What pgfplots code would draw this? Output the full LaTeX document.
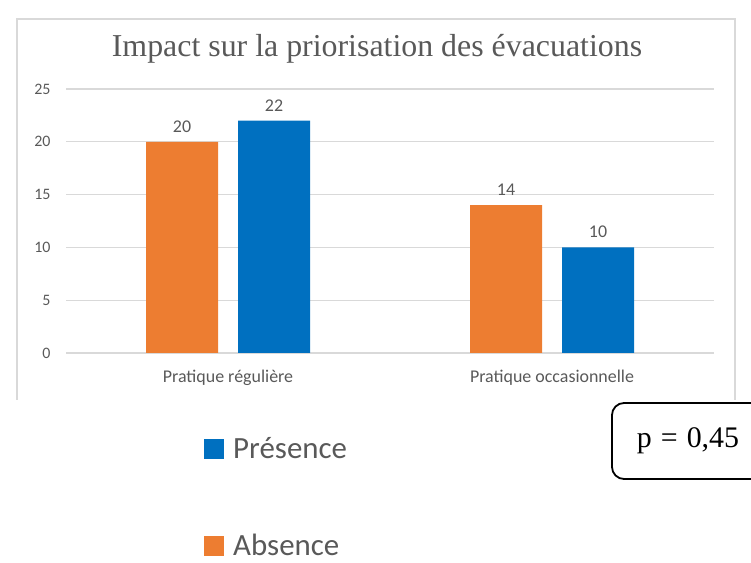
\documentclass[border=0pt]{standalone}
\usepackage{fontspec}
\setmainfont{Carlito}
\newfontfamily\tnr{Liberation Serif}
\usepackage{pgfplots}
\pgfplotsset{compat=1.18}
\definecolor{orangeA}{HTML}{ED7D31}
\definecolor{blueP}{HTML}{0070C0}
\definecolor{gridg}{HTML}{D9D9D9}
\definecolor{txtg}{HTML}{595959}
\begin{document}
\begin{tikzpicture}[x=1bp,y=1bp]
\path[use as bounding box] (0,0) rectangle (751,563);
\draw[gridg, line width=1.3bp] (17,163) -- (17,544) -- (735,544) -- (735,163);
\node[txtg, font=\tnr\fontsize{32}{36}\selectfont] at (377,514) {Impact sur la priorisation des évacuations};
\begin{axis}[at={(66bp,210bp)}, anchor=south west, scale only axis,
  width=648bp, height=264bp,
  xmin=-0.5, xmax=1.5, ymin=0, ymax=25,
  ytick={0,5,10,15,20,25}, xtick={0,1},
  xticklabels={Pratique régulière, Pratique occasionnelle},
  ybar=20bp, bar width=72bp,
  axis line style={draw=none}, major tick length=0pt,
  ymajorgrids, grid style={gridg, line width=1.3bp},
  /pgf/number format/assume math mode=true,
  ticklabel style={font=\fontsize{16}{18}\selectfont, text=txtg},
  yticklabel style={xshift=-12bp},
  xticklabel style={yshift=-14bp, font=\fontsize{18}{20}\selectfont},
  nodes near coords,
  every node near coord/.append style={font=\fontsize{18}{20}\selectfont, text=txtg, yshift=6bp},
  reverse legend,
  legend style={at={(axis description cs:0.213,-0.313)}, anchor=north west, draw=none, fill=none,
    font=\fontsize{31}{36}\selectfont, text=txtg, row sep=70bp, inner sep=0pt},
  legend cell align=left,
  legend image code/.code={\fill[#1,draw=none] (0bp,-10bp) rectangle (20bp,10bp); \path (27bp,0bp);},
]
\addplot[fill=orangeA, draw=none] coordinates {(0,20) (1,14)};
\addlegendentry{Absence}
\addplot[fill=blueP, draw=none] coordinates {(0,22) (1,10)};
\addlegendentry{Présence}
\end{axis}
\draw[line width=1.8bp, rounded corners=12bp] (780,160) -- (612,160) -- (612,84) -- (780,84);
\node[font=\tnr\fontsize{30}{34}\selectfont] at (688,122) {p\hspace{9bp}=\hspace{9bp}0,45};
\end{tikzpicture}
\end{document}
